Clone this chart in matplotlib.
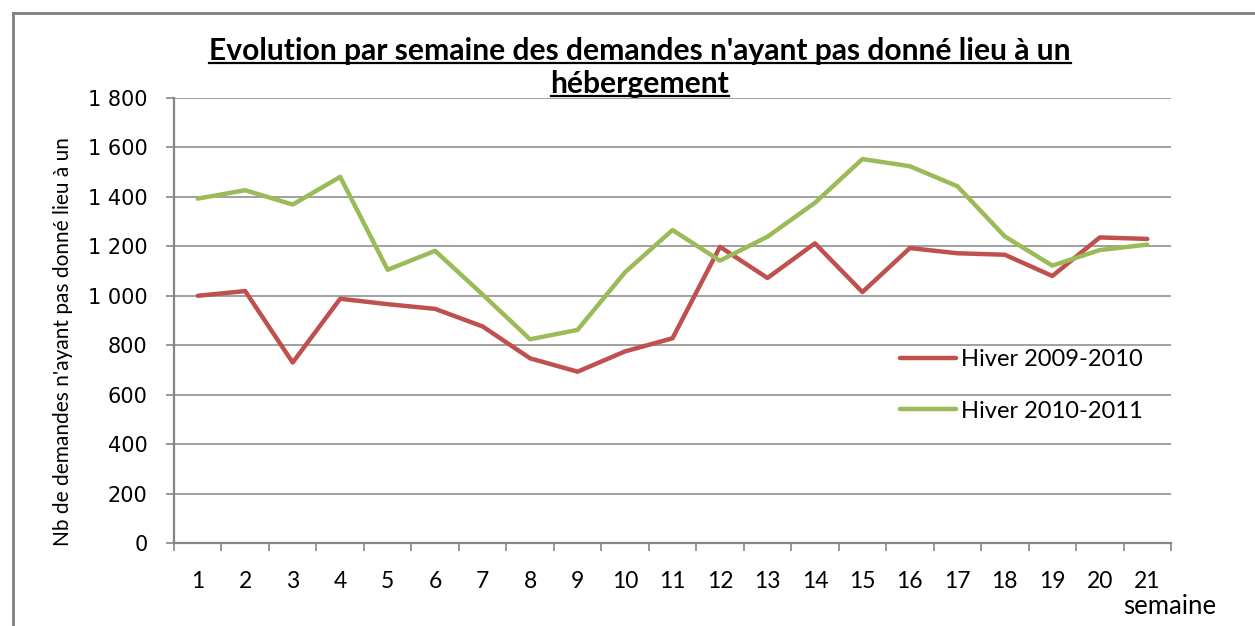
import numpy as np
import matplotlib.pyplot as plt
from matplotlib.lines import Line2D
from matplotlib.ticker import FuncFormatter

# Data
semaines = list(range(1, 22))
hiver_2009_2010 = [1000, 1019, 730, 988, 966, 947, 876, 747, 693, 775, 828,
                   1198, 1072, 1212, 1015, 1193, 1172, 1166, 1080, 1236, 1230]
hiver_2010_2011 = [1393, 1427, 1369, 1481, 1105, 1182, 1005, 824, 862, 1095, 1266,
                   1142, 1239, 1376, 1553, 1524, 1443, 1240, 1122, 1185, 1207]
y_ticks = [0, 200, 400, 600, 800, 1000, 1200, 1400, 1600, 1800]
labels = ['Hiver 2009-2010', 'Hiver 2010-2011']
colors = ['#C0504D', '#9BBB59']

W, H = 1255, 626
fig = plt.figure(figsize=(W / 100, H / 100), dpi=100)
ax = fig.add_axes([174 / W, 1 - 543 / H, (1171 - 174) / W, (543 - 98) / H])

grey = '#868686'
ax.plot(semaines, hiver_2009_2010, color=colors[0], lw=3.2, label=labels[0],
        solid_joinstyle='round', solid_capstyle='round', zorder=3)
ax.plot(semaines, hiver_2010_2011, color=colors[1], lw=3.2, label=labels[1],
        solid_joinstyle='round', solid_capstyle='round', zorder=3)

ax.set_ylim(0, 1800)
ax.set_yticks(y_ticks)
ax.yaxis.set_major_formatter(FuncFormatter(lambda v, p: f"{int(v):,}".replace(",", " ")))
ax.grid(axis='y', color=grey, lw=1.1)
ax.set_axisbelow(True)

ax.set_xlim(0.5, 21.5)
ax.set_xticks(np.arange(0.5, 22, 1))
ax.set_xticklabels([])
ax.set_xticks(semaines, minor=True)
ax.set_xticklabels([str(s) for s in semaines], minor=True, family='Lato', fontsize=16.5)
ax.tick_params(axis='x', which='major', direction='out', length=6, color=grey, width=1.2)
ax.tick_params(axis='x', which='minor', length=0, pad=20)
ax.tick_params(axis='y', direction='out', length=6, color=grey, width=1.2, pad=13,
               labelsize=15)

for s in ['top', 'right']:
    ax.spines[s].set_visible(False)
for s in ['left', 'bottom']:
    ax.spines[s].set_color(grey)
    ax.spines[s].set_linewidth(1.6)

ax.set_ylabel("Nb de demandes n'ayant pas donné lieu à un", family='Lato', fontsize=15)
ax.yaxis.set_label_coords((73 - 174) / 997, 0.452)

fig.text(1216 / W, 1 - 606 / H, 'semaine', family='Lato', fontsize=18.5,
         ha='right', va='center')

ax.legend(loc='upper left', bbox_to_anchor=(900 / W, 1 - 349 / H),
          bbox_transform=fig.transFigure, frameon=False, prop={'family': 'Lato', 'size': 17},
          handlelength=2.37, handletextpad=0.2, labelspacing=1.3, borderpad=0,
          borderaxespad=0)

# Title in two underlined lines
t1 = fig.text(640 / W, 1 - 60 / H, "Evolution par semaine des demandes n'ayant pas donné lieu à un",
              family='Lato', fontweight='bold', fontsize=21.6, ha='center', va='baseline')
t2 = fig.text(640 / W, 1 - 93 / H, "hébergement",
              family='Lato', fontweight='bold', fontsize=21.6, ha='center', va='baseline')

fig.canvas.draw()
r = fig.canvas.get_renderer()
for t, base in [(t1, 60), (t2, 93)]:
    bb = t.get_window_extent(r)
    yy = 1 - (base + 3) / H
    fig.add_artist(Line2D([bb.x0 / W, bb.x1 / W], [yy, yy], color='black', lw=1.6))

# grey outer border (left and top)
fig.add_artist(Line2D([13 / W, 13 / W], [0, 1 - 13 / H], color='#7F7F7F', lw=2))
fig.add_artist(Line2D([13 / W, 1], [1 - 13 / H, 1 - 13 / H], color='#7F7F7F', lw=2))

fig.savefig('out.png', dpi=100)
